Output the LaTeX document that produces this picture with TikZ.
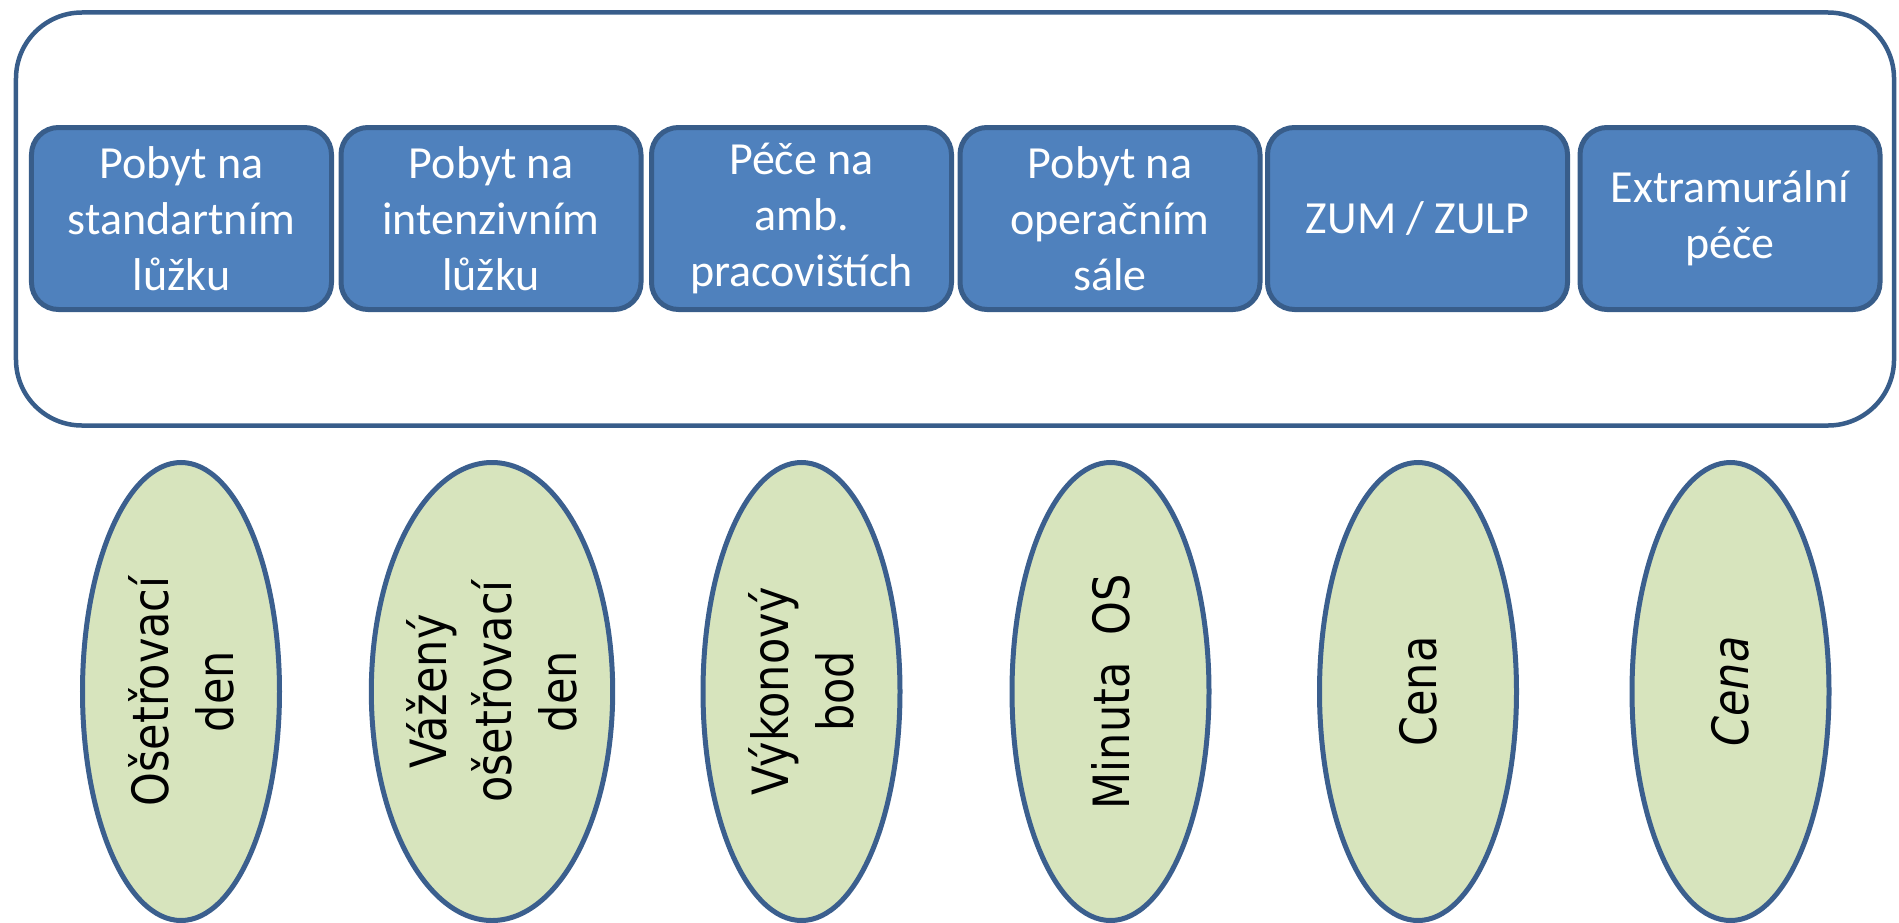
\documentclass[tikz,border=0pt]{standalone}
\usepackage{fontspec}
\setmainfont{Carlito}
\setsansfont[FakeStretch=0.86]{DejaVu Sans}
\usetikzlibrary{shapes.geometric}
\definecolor{boxfill}{HTML}{4F81BD}
\definecolor{boxline}{HTML}{385D8A}
\definecolor{ellfill}{HTML}{D7E4BD}
\definecolor{ellline}{HTML}{3B5F8E}
\tikzset{
  frame/.style={draw=boxline, line width=4.5bp, rounded corners=66bp, minimum width=1878bp, minimum height=413bp, inner sep=0},
  catbox/.style={draw=boxline, fill=boxfill, line width=5bp, rounded corners=27bp, minimum width=300bp, minimum height=182bp, inner sep=0, text=white, align=center, font=\rmfamily\fontsize{46bp}{56bp}\selectfont},
  unitell/.style={ellipse, draw=ellline, fill=ellfill, line width=5bp, rotate=90, minimum width=458bp, minimum height=197bp, inner sep=0, align=center, text=black, font=\sffamily\fontsize{50bp}{65bp}\selectfont}
}
\begin{document}
\begin{tikzpicture}[x=1bp, y=-1bp]
\useasboundingbox (0,0) rectangle (1899,923);
\node[frame] (frame) at (955,219) {};
\node[catbox] (b1) at (181.5,218.5) {Pobyt na\\standartním\\lůžku};
\node[catbox] (b2) at (491,218.5) {Pobyt na\\intenzivním\\lůžku};
\node[catbox] (b3) at (801.5,218.5) {Péče na\\amb.\\pracovištích};
\node[catbox] (b4) at (1110,218.5) {Pobyt na\\operačním\\sále};
\node[catbox] (b5) at (1417.5,218.5) {ZUM / ZULP};
\node[catbox] (b6) at (1730,218.5) {Extramurální\\péče};
\node[unitell] (e1) at (181,691.5) {Ošetřovací\\den};
\node[unitell] (e2) at (492,691.5) {Vážený\\ošetřovací\\den};
\node[unitell] (e3) at (801.5,691.5) {Výkonový\\bod};
\node[unitell] (e4) at (1110.5,691.5) {Minuta\ \ OS};
\node[unitell] (e5) at (1418,691.5) {Cena};
\node[unitell] (e6) at (1730.5,691.5) {\textit{Cena}};
\end{tikzpicture}
\end{document}
